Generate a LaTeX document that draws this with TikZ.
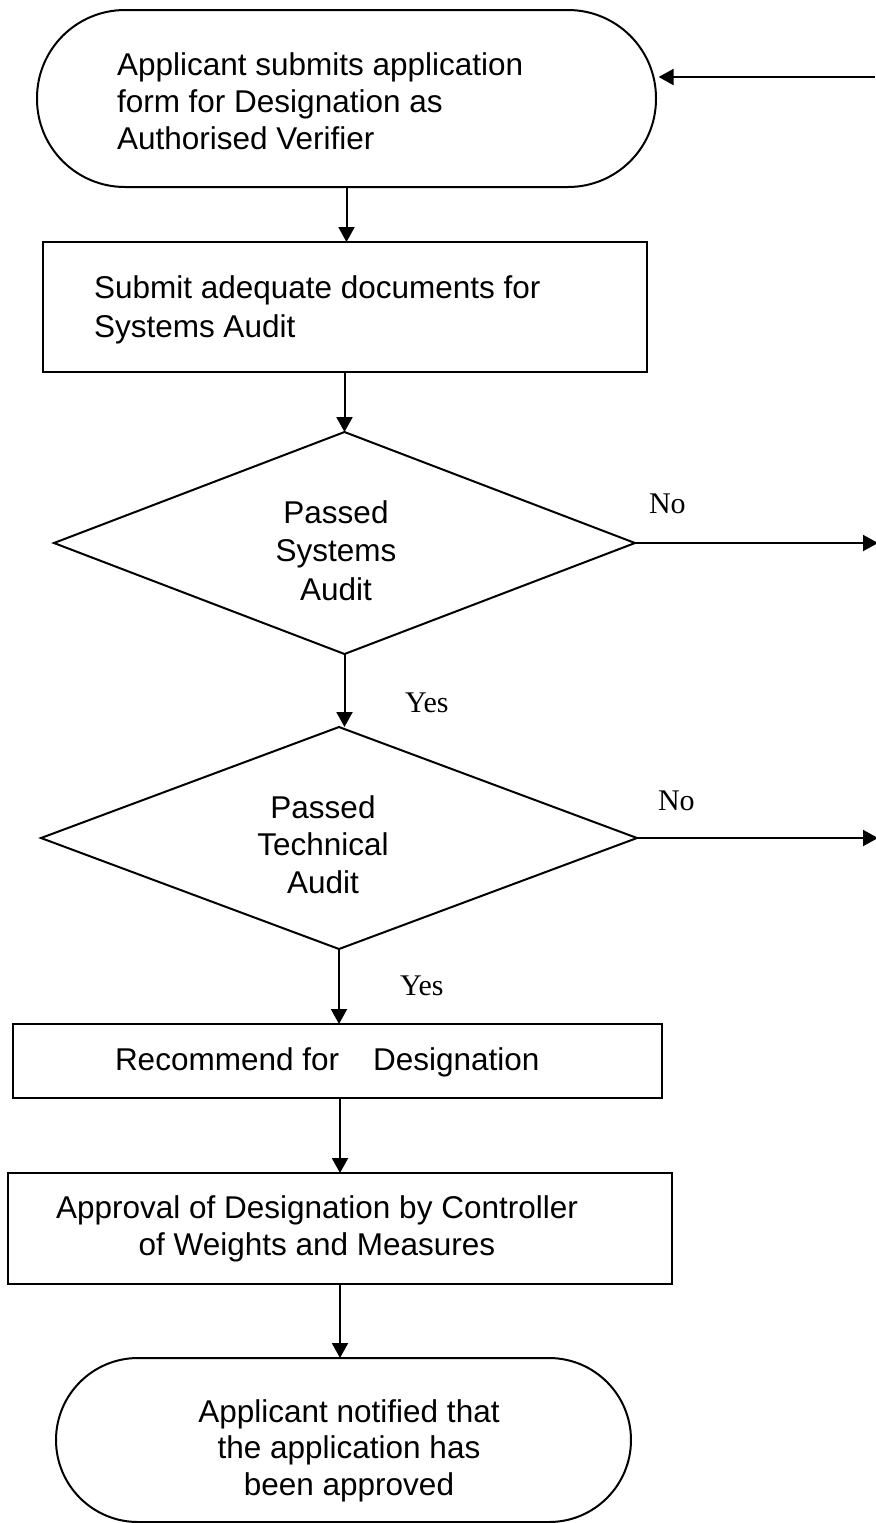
\documentclass[tikz,border=0pt]{standalone}
\usepackage{fontspec}
\setmainfont{Liberation Sans}
\newfontfamily\serifyn{Liberation Serif}
\usetikzlibrary{arrows.meta,shapes.geometric}
\newcommand\lnstrut{\rule{0pt}{12pt}}
\begin{document}
\begin{tikzpicture}[x=0.5pt,y=-0.5pt,
  every node/.style={inner sep=0pt, outer sep=0pt},
  shp/.style={draw, line width=1pt},
  term/.style={shp, rectangle},
  proc/.style={shp, rectangle},
  dec/.style={shp, diamond},
  txt/.style={font=\fontsize{15.75pt}{18.5pt}\selectfont},
  yn/.style={font=\serifyn\fontsize{15pt}{18pt}\selectfont, anchor=base west},
  arr/.style={line width=1pt, -{Triangle[length=7.5pt,width=8pt]}}
]
\fill[white] (0,0) rectangle (875,1523);
\useasboundingbox (0,0) rectangle (875,1523);

% shapes
\node[term, rounded corners=44pt, minimum width=309.5pt, minimum height=88.5pt] (start) at (346.5,98.5) {};
\node[proc, minimum width=302pt, minimum height=65pt] (docs) at (345,307) {};
\node[dec, minimum width=290.5pt, minimum height=111pt] (d1) at (344.5,543) {};
\node[dec, minimum width=298pt, minimum height=111pt] (d2) at (339,838) {};
\node[proc, minimum width=324.5pt, minimum height=37pt] (rec) at (337.5,1061) {};
\node[proc, minimum width=332pt, minimum height=55.5pt] (appr) at (340,1228.5) {};
\node[term, rounded corners=41pt, minimum width=287.5pt, minimum height=82pt] (end) at (343.5,1440) {};

% texts
\node[txt, align=left, anchor=north west] (startT) at (117,51)
  {\lnstrut Applicant submits application\\form for Designation as\\Authorised Verifier};
\node[txt, font=\fontsize{15.75pt}{19.5pt}\selectfont, align=left, anchor=north west] (docsT) at (94,274)
  {\lnstrut Submit adequate documents for\\Systems Audit};
\node[txt, font=\fontsize{15.75pt}{19.25pt}\selectfont, align=center, anchor=north] (d1T) at (336,499)
  {\lnstrut Passed\\Systems\\Audit};
\node[txt, font=\fontsize{15.75pt}{18.75pt}\selectfont, align=center, anchor=north] (d2T) at (323,794)
  {\lnstrut Passed\\Technical\\Audit};
\node[txt, anchor=base west] (recT) at (115,1070) {Recommend for\hspace{17pt}Designation};
\node[txt, align=center, anchor=north] (apprT) at (317,1194)
  {\lnstrut Approval of Designation by Controller\\of Weights and Measures};
\node[txt, font=\fontsize{15.75pt}{18.25pt}\selectfont, align=center, anchor=north] (endT) at (349,1398)
  {\lnstrut Applicant notified that\\the application has\\been approved};

% labels
\node[yn] (yes1) at (405,712) {Yes};
\node[yn] (yes2) at (400,995) {Yes};
\node[yn] (no1) at (649,513) {No};
\node[yn] (no2) at (658,810) {No};

% connector end points
\coordinate (retA) at (875,77);
\coordinate (noA) at (878,543);
\coordinate (noB) at (878,838);

% connectors
\draw[arr] (start.south) -- (start.south |- docs.north);
\draw[arr] (d1.north |- docs.south) -- (d1.north);
\draw[arr] (d1.south) -- (d1.south |- d2.north);
\draw[arr] (d2.south) -- (d2.south |- rec.north);
\draw[arr] (appr.north |- rec.south) -- (appr.north);
\draw[arr] (appr.south) -- (appr.south |- end.north);
\draw[arr] (d1.east) -- (noA);
\draw[arr] (d2.east) -- (noB);
\draw[arr, shorten >=1.3pt] (retA) -- (retA -| start.east);
\end{tikzpicture}
\end{document}
